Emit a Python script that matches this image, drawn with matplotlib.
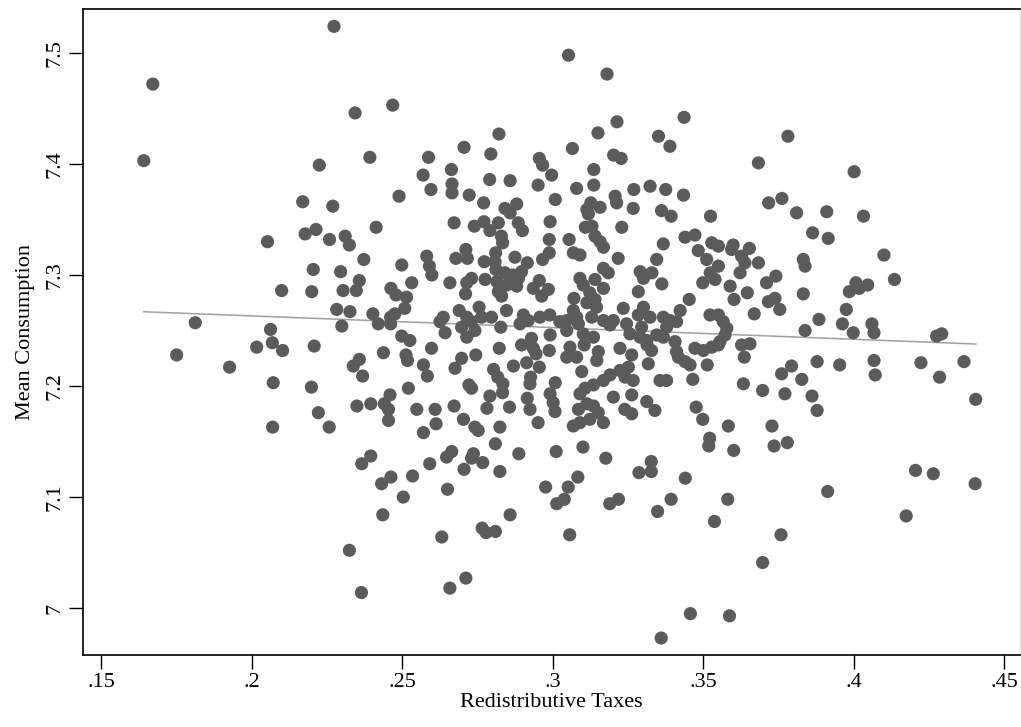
import numpy as np
import matplotlib
matplotlib.use("Agg")
import matplotlib.pyplot as plt

plt.rcParams['font.family'] = ['Liberation Serif', 'DejaVu Serif']

# Redistributive taxes (x) and mean consumption (y)
# sparse outer points
taxes_outer = [
    0.1672, 0.1642, 0.2225, 0.2170, 0.2274, 0.2344, 0.2469, 0.2822, 0.2706, 0.2795,
    0.2393, 0.2588, 0.2956, 0.2967, 0.2664, 0.2570, 0.2997, 0.2791, 0.2859, 0.2952,
    0.2666, 0.2596, 0.2666, 0.2723, 0.2490, 0.3009, 0.2771, 0.2881, 0.2842, 0.2270,
    0.2859,
    0.3053, 0.3181, 0.3437, 0.3214, 0.3151, 0.3352, 0.3782, 0.3390, 0.3066, 0.3203,
    0.3228, 0.3684, 0.3137, 0.3080, 0.3137, 0.3270, 0.3324, 0.3376, 0.3435, 0.3208,
    0.3213, 0.3127, 0.3158, 0.3114, 0.3119, 0.3268, 0.3362, 0.3394, 0.3525, 0.3718,
    0.3762, 0.3811,
    0.4002, 0.3911, 0.4033, 0.3864, 0.3916,
    0.2053, 0.2178, 0.2214, 0.2205, 0.2100, 0.2200, 0.1813, 0.2063, 0.2069, 0.2017,
    0.2103, 0.2208, 0.1751, 0.1927, 0.2072, 0.2199, 0.2222, 0.2070,
    0.3833, 0.3839, 0.4101, 0.4136, 0.4008, 0.4019, 0.4047, 0.3986, 0.3833, 0.3976,
    0.3885, 0.3963, 0.4061, 0.4068, 0.3999, 0.3839, 0.4276, 0.4293, 0.3879, 0.3954,
    0.4068, 0.4072, 0.4224, 0.4367, 0.4286, 0.4406, 0.3828, 0.3862, 0.3879,
    0.2396, 0.2366, 0.2432, 0.2463, 0.2535, 0.2592, 0.2504, 0.2436, 0.2651, 0.2648,
    0.2665, 0.2706, 0.2737, 0.2731, 0.2768, 0.2810, 0.2825, 0.2888, 0.3012, 0.2977,
    0.3014, 0.2859, 0.2766, 0.2779, 0.2810, 0.2632, 0.2325, 0.2712, 0.2659, 0.2365,
    0.3101, 0.3177, 0.3328, 0.3287, 0.3328, 0.3441, 0.3519, 0.3602, 0.3736, 0.3780,
    0.3084, 0.3052, 0.3039, 0.3190, 0.3219, 0.3394, 0.3349, 0.3582, 0.3538, 0.3057,
    0.3759, 0.3698, 0.3458, 0.3588, 0.3361, 0.3522,
    0.3914, 0.4206, 0.4265, 0.4404, 0.4175,
]
cons_outer = [
    7.472, 7.403, 7.399, 7.366, 7.524, 7.446, 7.453, 7.427, 7.415, 7.409,
    7.406, 7.406, 7.405, 7.399, 7.395, 7.390, 7.390, 7.386, 7.385, 7.381,
    7.382, 7.377, 7.374, 7.372, 7.371, 7.368, 7.365, 7.364, 7.360, 7.362,
    7.356,
    7.498, 7.481, 7.442, 7.438, 7.428, 7.425, 7.425, 7.416, 7.414, 7.408,
    7.405, 7.401, 7.395, 7.378, 7.381, 7.377, 7.380, 7.377, 7.372, 7.371,
    7.365, 7.365, 7.361, 7.359, 7.355, 7.360, 7.358, 7.353, 7.353, 7.365,
    7.369, 7.356,
    7.393, 7.357, 7.353, 7.338, 7.333,
    7.330, 7.337, 7.341, 7.305, 7.286, 7.285, 7.257, 7.251, 7.239, 7.235,
    7.232, 7.236, 7.228, 7.217, 7.203, 7.199, 7.176, 7.163,
    7.314, 7.308, 7.318, 7.296, 7.293, 7.288, 7.291, 7.285, 7.283, 7.269,
    7.260, 7.256, 7.256, 7.248, 7.248, 7.250, 7.245, 7.247, 7.222, 7.219,
    7.223, 7.210, 7.221, 7.222, 7.208, 7.188, 7.206, 7.191, 7.178,
    7.137, 7.130, 7.112, 7.118, 7.119, 7.130, 7.100, 7.084, 7.107, 7.136,
    7.141, 7.125, 7.139, 7.135, 7.131, 7.148, 7.123, 7.139, 7.141, 7.109,
    7.094, 7.084, 7.072, 7.068, 7.069, 7.064, 7.052, 7.027, 7.018, 7.014,
    7.145, 7.135, 7.132, 7.122, 7.123, 7.117, 7.146, 7.142, 7.146, 7.149,
    7.118, 7.109, 7.098, 7.094, 7.098, 7.098, 7.087, 7.098, 7.078, 7.066,
    7.066, 7.041, 6.995, 6.993, 6.973, 7.153,
    7.105, 7.124, 7.121, 7.112, 7.083,
]

# dense left-centre block
taxes_left = [
    0.2259, 0.2311, 0.2325, 0.2414, 0.2673, 0.2740, 0.2772, 0.2792, 0.2820, 0.2830,
    0.2834, 0.2886, 0.2900, 0.2992, 0.2989,
    0.2373, 0.2499, 0.2582, 0.2591, 0.2599, 0.2679, 0.2712, 0.2717, 0.2773, 0.2811,
    0.2809, 0.2875, 0.2916, 0.2967, 0.2989, 0.2296, 0.2812, 0.2842, 0.2868, 0.2897,
    0.2358, 0.2348, 0.2304, 0.2463, 0.2480, 0.2515, 0.2532, 0.2659, 0.2715, 0.2731,
    0.2711, 0.2776, 0.2815, 0.2820, 0.2831, 0.2848, 0.2881, 0.2887, 0.2936, 0.2956,
    0.2964, 0.2986,
    0.2283, 0.2327, 0.2300, 0.2403, 0.2421, 0.2462, 0.2462, 0.2476, 0.2509, 0.2637,
    0.2626, 0.2643, 0.2690, 0.2715, 0.2698, 0.2731, 0.2756, 0.2764, 0.2742, 0.2715,
    0.2797, 0.2828, 0.2847, 0.2892, 0.2903, 0.2919, 0.2958, 0.2991, 0.3024,
    0.2499, 0.2526, 0.2598, 0.2438, 0.2513, 0.2518, 0.2358, 0.2338, 0.2369, 0.2571,
    0.2584, 0.2676, 0.2698, 0.2745, 0.2823, 0.2897, 0.2930, 0.2936, 0.2945, 0.2989,
    0.2992,
    0.2804, 0.2818, 0.2835, 0.2870, 0.2914, 0.2956, 0.2927, 0.2925, 0.2722, 0.2731,
    0.2521, 0.2792, 0.2834, 0.2916, 0.2992, 0.3009, 0.2460, 0.2441, 0.2455, 0.2350,
    0.2396, 0.2455, 0.2549, 0.2610, 0.2673, 0.2782, 0.2857, 0.2925, 0.3002, 0.3008,
    0.2258, 0.2613, 0.2571, 0.2704, 0.2742, 0.2753, 0.2825, 0.2952,
]
cons_left = [
    7.332, 7.335, 7.327, 7.343, 7.347, 7.344, 7.348, 7.340, 7.347, 7.335,
    7.329, 7.347, 7.340, 7.348, 7.332,
    7.314, 7.309, 7.317, 7.308, 7.300, 7.315, 7.323, 7.315, 7.312, 7.320,
    7.312, 7.316, 7.311, 7.314, 7.320, 7.303, 7.305, 7.302, 7.300, 7.303,
    7.295, 7.286, 7.286, 7.288, 7.282, 7.280, 7.293, 7.293, 7.293, 7.297,
    7.283, 7.296, 7.294, 7.285, 7.281, 7.291, 7.290, 7.297, 7.288, 7.295,
    7.281, 7.287,
    7.269, 7.267, 7.254, 7.265, 7.256, 7.262, 7.256, 7.265, 7.270, 7.262,
    7.258, 7.248, 7.268, 7.262, 7.253, 7.258, 7.271, 7.262, 7.250, 7.244,
    7.262, 7.253, 7.268, 7.256, 7.264, 7.259, 7.262, 7.264, 7.258,
    7.245, 7.241, 7.234, 7.230, 7.228, 7.223, 7.224, 7.218, 7.209, 7.219,
    7.209, 7.216, 7.225, 7.228, 7.234, 7.237, 7.243, 7.234, 7.229, 7.232,
    7.246,
    7.215, 7.208, 7.202, 7.218, 7.221, 7.217, 7.208, 7.202, 7.201, 7.198,
    7.198, 7.191, 7.194, 7.189, 7.193, 7.203, 7.192, 7.184, 7.179, 7.182,
    7.184, 7.169, 7.179, 7.179, 7.182, 7.180, 7.181, 7.179, 7.185, 7.177,
    7.163, 7.166, 7.158, 7.170, 7.163, 7.160, 7.163, 7.167,
]

# dense right-centre block
taxes_right = [
    0.3109, 0.3131, 0.3230, 0.3055, 0.3141, 0.3158, 0.3169, 0.3069, 0.3091, 0.3218,
    0.3368, 0.3440, 0.3473, 0.3484, 0.3529, 0.3551, 0.3600, 0.3595, 0.3654, 0.3628,
    0.3639, 0.3512, 0.3684,
    0.3169, 0.3185, 0.3291, 0.3330, 0.3302, 0.3346, 0.3091, 0.3102, 0.3141, 0.3169,
    0.3363, 0.3285, 0.3071, 0.3124, 0.3141, 0.3114, 0.3551, 0.3524, 0.3540, 0.3499,
    0.3590, 0.3623, 0.3647, 0.3603, 0.3711, 0.3742, 0.3717, 0.3739, 0.3755, 0.3670,
    0.3454,
    0.3069, 0.3080, 0.3047, 0.3086, 0.3146, 0.3130, 0.3169, 0.3235, 0.3202, 0.3191,
    0.3285, 0.3302, 0.3324, 0.3246, 0.3368, 0.3390, 0.3412, 0.3424, 0.3379, 0.3523,
    0.3551, 0.3567, 0.3579, 0.3573, 0.3556, 0.3296, 0.3257, 0.3291, 0.3313, 0.3136,
    0.3102, 0.3047, 0.3346, 0.3368, 0.3407, 0.3058, 0.3105, 0.3224, 0.3314, 0.3329,
    0.3412, 0.3418, 0.3440, 0.3457, 0.3473, 0.3501, 0.3529, 0.3551, 0.3628, 0.3656,
    0.3637,
    0.3047, 0.3080, 0.3152, 0.3147, 0.3263, 0.3318, 0.3097, 0.3514, 0.3466, 0.3357,
    0.3379, 0.3191, 0.3224, 0.3252, 0.3241, 0.3268, 0.3169, 0.3136, 0.3108, 0.3091,
    0.3263, 0.3202, 0.3313, 0.3340, 0.3634, 0.3698, 0.3761, 0.3794, 0.3772, 0.3477,
    0.3499, 0.3584, 0.3729, 0.3086, 0.3114, 0.3136, 0.3152, 0.3069, 0.3091, 0.3124,
    0.3169, 0.3240, 0.3263,
]
cons_right = [
    7.343, 7.344, 7.343, 7.332, 7.335, 7.330, 7.325, 7.320, 7.318, 7.315,
    7.328, 7.334, 7.336, 7.322, 7.329, 7.326, 7.327, 7.323, 7.324, 7.317,
    7.311, 7.314, 7.311,
    7.306, 7.302, 7.303, 7.302, 7.297, 7.314, 7.297, 7.291, 7.296, 7.288,
    7.292, 7.285, 7.279, 7.284, 7.278, 7.275, 7.308, 7.302, 7.296, 7.293,
    7.290, 7.302, 7.284, 7.278, 7.293, 7.299, 7.276, 7.279, 7.269, 7.265,
    7.278,
    7.268, 7.262, 7.259, 7.256, 7.271, 7.262, 7.259, 7.270, 7.259, 7.255,
    7.264, 7.271, 7.262, 7.256, 7.262, 7.259, 7.258, 7.268, 7.253, 7.264,
    7.264, 7.258, 7.252, 7.246, 7.240, 7.253, 7.247, 7.244, 7.241, 7.244,
    7.247, 7.250, 7.246, 7.244, 7.240, 7.235, 7.237, 7.234, 7.237, 7.232,
    7.231, 7.226, 7.222, 7.219, 7.234, 7.232, 7.235, 7.237, 7.237, 7.238,
    7.226,
    7.226, 7.226, 7.231, 7.223, 7.228, 7.220, 7.213, 7.219, 7.206, 7.205,
    7.205, 7.210, 7.214, 7.217, 7.208, 7.205, 7.205, 7.201, 7.198, 7.193,
    7.192, 7.190, 7.186, 7.178, 7.202, 7.196, 7.211, 7.218, 7.193, 7.181,
    7.170, 7.164, 7.164, 7.179, 7.184, 7.182, 7.176, 7.164, 7.167, 7.170,
    7.167, 7.179, 7.175,
]

# fitted line as shown in the chart (intercept, slope)
fit_intercept = 7.2842
fit_slope = -0.1052

x = np.array(taxes_outer + taxes_left + taxes_right)
y = np.array(cons_outer + cons_left + cons_right)

fig = plt.figure(figsize=(10.21, 7.27), dpi=100)
ax = fig.add_axes([0.0813, 0.099, 0.9177, 0.8886])

ax.scatter(x, y, s=90, color='#5b5b5b', edgecolors='none', zorder=3)

xs = np.array([x.min(), x.max()])
ax.plot(xs, fit_intercept + fit_slope * xs, color='#a0a0a0', lw=1.1, zorder=2)

ax.set_xlim(0.1440, 0.4553)
ax.set_ylim(6.9577, 7.5396)

xt = [0.15, 0.2, 0.25, 0.3, 0.35, 0.4, 0.45]
ax.set_xticks(xt)
ax.set_xticklabels(['.15', '.2', '.25', '.3', '.35', '.4', '.45'])
yt = [7.0, 7.1, 7.2, 7.3, 7.4, 7.5]
ax.set_yticks(yt)
ax.set_yticklabels(['7', '7.1', '7.2', '7.3', '7.4', '7.5'], rotation=90, va='center')

ax.tick_params(direction='out', length=10, width=1, labelsize=16, pad=3)
for s in ['left', 'bottom', 'top']:
    ax.spines[s].set_linewidth(1.2)
ax.spines['right'].set_color('#dddddd')

ax.set_xlabel('Redistributive Taxes', fontsize=16, labelpad=1)
ax.set_ylabel('Mean Consumption', fontsize=16, labelpad=8)

fig.savefig('out.png', dpi=100)
